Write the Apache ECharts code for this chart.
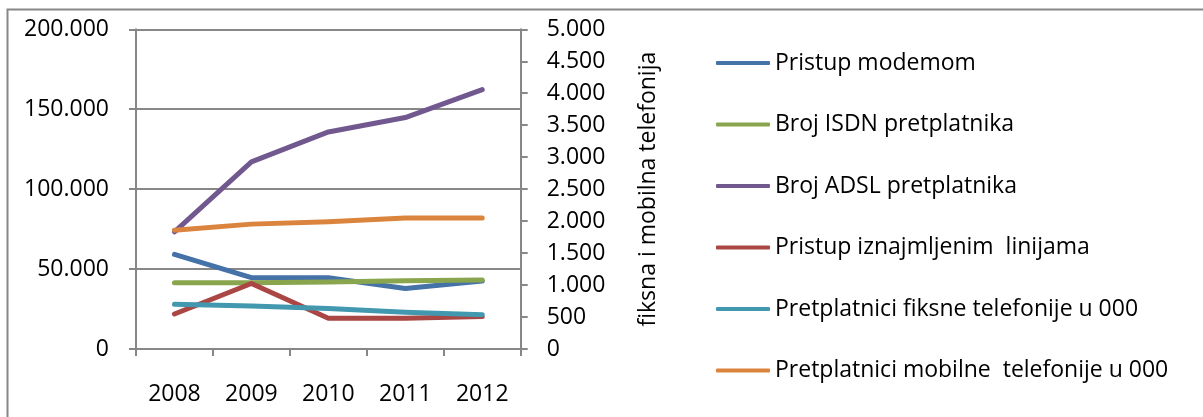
<!DOCTYPE html>
<html>
<head>
<meta charset="utf-8">
<script src="https://cdn.jsdelivr.net/npm/echarts@6/dist/echarts.min.js"></script>
<style>
html,body{margin:0;padding:0;background:#fff;}
#chart{width:1203px;height:417px;}
</style>
</head>
<body>
<div id="chart"></div>
<script>
const years = ['2008', '2009', '2010', '2011', '2012'];
const leftTicks = [0, 50000, 100000, 150000, 200000];
const rightTicks = [0, 500, 1000, 1500, 2000, 2500, 3000, 3500, 4000, 4500, 5000];
const seriesNames = [
  'Pristup modemom',
  'Broj ISDN pretplatnika',
  'Broj ADSL pretplatnika',
  'Pristup iznajmljenim  linijama',
  'Pretplatnici fiksne telefonije u 000',
  'Pretplatnici mobilne  telefonije u 000'
];
const pristupModemom = [59200, 44600, 44600, 37900, 42500];
const brojISDN = [41500, 41500, 41900, 42700, 43100];
const brojADSL = [73300, 117100, 135800, 144800, 162300];
const iznajmljeneLinije = [21900, 41000, 19200, 19200, 20300];
const fiksnaTelefonija = [698, 672, 635, 573, 535];
const mobilnaTelefonija = [1859, 1953, 1989, 2047, 2047];
const rightAxisName = 'fiksna i mobilna telefonija';

const colors = ['#4572A7', '#89A54E', '#71588F', '#AA4643', '#4198AF', '#DB843D'];
const FONT = 'Open Sans';
const FS = 23;
const GRAY = '#878787';

function fmt(v) {
  return String(Math.round(v)).replace(/\B(?=(\d{3})+(?!\d))/g, '.');
}

const chart = echarts.init(document.getElementById('chart'), null, {renderer: 'canvas'});

function mkSeries(i, data, axisIndex) {
  return {
    name: seriesNames[i],
    type: 'line',
    yAxisIndex: axisIndex,
    data: data,
    symbol: 'none',
    showSymbol: false,
    lineStyle: {width: 5, color: colors[i], cap: 'round', join: 'round'},
    itemStyle: {color: colors[i]},
    silent: true,
    animation: false
  };
}

chart.setOption({
  animation: false,
  textStyle: {fontFamily: FONT},
  graphic: [{
    type: 'rect',
    shape: {x: 7.5, y: 9.5, width: 1400, height: 600},
    style: {fill: 'none', stroke: GRAY, lineWidth: 2},
    silent: true,
    z: -1
  }],
  grid: {left: 136, right: 682.3, top: 29.3, bottom: 68, containLabel: false},
  legend: {
    orient: 'vertical',
    left: 711,
    top: 46.5,
    itemWidth: 54,
    itemHeight: 4,
    itemGap: 38.5,
    icon: 'roundRect',
    textStyle: {fontFamily: FONT, fontSize: FS, color: '#000', padding: [0, 0, 0, 0]},
    data: seriesNames.map((n, i) => ({name: n, itemStyle: {color: colors[i]}})),
    selectedMode: false
  },
  xAxis: {
    type: 'category',
    data: years,
    boundaryGap: true,
    axisLine: {show: true, lineStyle: {color: GRAY, width: 2}},
    axisTick: {show: true, length: 7, inside: false, lineStyle: {color: GRAY, width: 2}},
    axisLabel: {margin: 34, fontFamily: FONT, fontSize: FS, color: '#000'},
    splitLine: {show: false}
  },
  yAxis: [{
    type: 'value',
    position: 'left',
    min: leftTicks[0],
    max: leftTicks[leftTicks.length - 1],
    interval: leftTicks[1] - leftTicks[0],
    axisLine: {show: true, lineStyle: {color: GRAY, width: 2}},
    axisTick: {show: true, length: 7, inside: false, lineStyle: {color: GRAY, width: 2}},
    axisLabel: {margin: 27, fontFamily: FONT, fontSize: FS, color: '#000', formatter: fmt},
    splitLine: {show: true, lineStyle: {color: GRAY, width: 2}}
  }, {
    type: 'value',
    position: 'right',
    min: rightTicks[0],
    max: rightTicks[rightTicks.length - 1],
    interval: rightTicks[1] - rightTicks[0],
    name: rightAxisName,
    nameLocation: 'middle',
    nameRotate: 90,
    nameGap: 116,
    nameTextStyle: {fontFamily: FONT, fontSize: FS, color: '#000'},
    axisLine: {show: true, lineStyle: {color: GRAY, width: 2}},
    axisTick: {show: true, length: 7, inside: false, lineStyle: {color: GRAY, width: 2}},
    axisLabel: {margin: 26, fontFamily: FONT, fontSize: FS, color: '#000', formatter: fmt},
    splitLine: {show: false}
  }],
  series: [
    mkSeries(0, pristupModemom, 0),
    mkSeries(1, brojISDN, 0),
    mkSeries(2, brojADSL, 0),
    mkSeries(3, iznajmljeneLinije, 0),
    mkSeries(4, fiksnaTelefonija, 1),
    mkSeries(5, mobilnaTelefonija, 1)
  ]
});
</script>
</body>
</html>
